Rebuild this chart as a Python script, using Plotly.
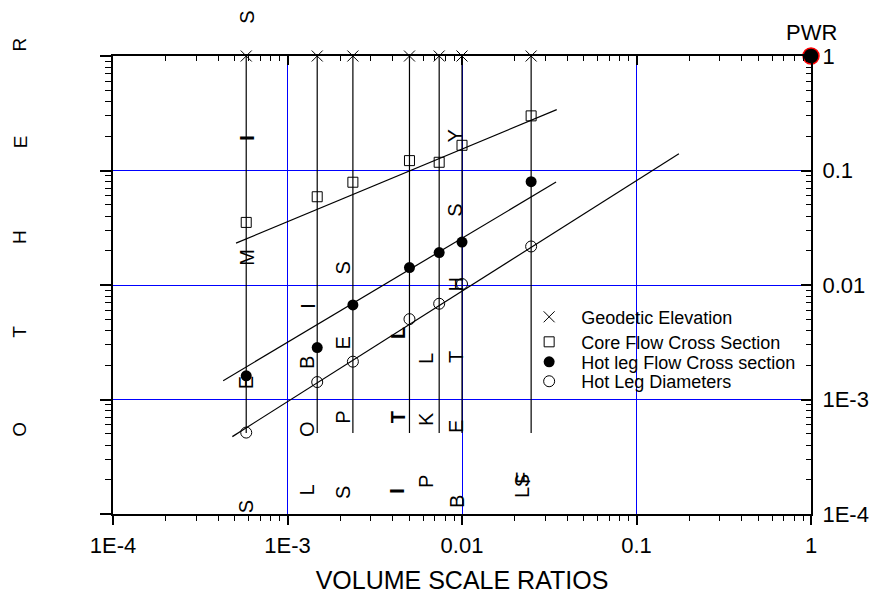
import numpy as np
import plotly.graph_objects as go

# ---------------- data ----------------
facility_x = [5.8e-4, 1.48e-3, 2.37e-3, 5.0e-3, 7.4e-3, 1.0e-2, 2.49e-2]
geodetic_y = [1.0, 1.0, 1.0, 1.0, 1.0, 1.0, 1.0]
core_flow_y = [0.0352, 0.059, 0.079, 0.122, 0.118, 0.166, 0.30]
hotleg_flow_y = [1.61e-3, 2.84e-3, 6.7e-3, 0.0142, 0.0192, 0.0237, 0.0798]
hotleg_diam_y = [5.14e-4, 1.42e-3, 2.14e-3, 5.03e-3, 6.86e-3, 0.0102, 0.0217]
rod_top = 1.0
rod_bottom = 5.1e-4

fit_core_x = [5.07e-4, 0.0349]
fit_core_y = [0.0232, 0.34]
fit_flow_x = [4.28e-4, 0.0346]
fit_flow_y = [1.46e-3, 0.0792]
fit_diam_x = [4.83e-4, 0.175]
fit_diam_y = [4.74e-4, 0.140]

pwr_x = [1.0]
pwr_y = [1.0]

tick_vals = [1e-4, 1e-3, 1e-2, 1e-1, 1.0]
tick_text = ["1E-4", "1E-3", "0.01", "0.1", "1"]
minor_vals = [m * 10.0 ** e for e in range(-4, 0) for m in range(2, 10)]

legend_names = ["Geodetic Elevation", "Core Flow Cross Section",
                "Hot leg Flow Cross section", "Hot Leg Diameters"]

# rotated letters along the facility lines: (facility index, letter, paper y, x shift, bold)
line_letters = [
    (0, "S", 1.084, 0, False), (0, "I", 0.822, 0, True), (0, "M", 0.560, 0, False),
    (0, "E", 0.286, 0, False), (0, "S", 0.015, 0, False),
    (1, "I", 0.455, -10, False), (1, "B", 0.330, -10, False), (1, "O", 0.186, -10, False),
    (1, "L", 0.052, -10, False),
    (2, "S", 0.538, -10, False), (2, "E", 0.374, -10, False), (2, "P", 0.212, -10, False),
    (2, "S", 0.048, -10, False),
    (3, "L", 0.396, -12, True), (3, "T", 0.212, -12, True), (3, "I", 0.052, -12, True),
    (4, "L", 0.339, -13, False), (4, "K", 0.208, -13, False), (4, "P", 0.070, -13, False),
    (5, "Y", 0.824, -7, False), (5, "S", 0.662, -7, False), (5, "H", 0.501, -6, False),
    (5, "T", 0.343, -6, False), (5, "E", 0.190, -6, False), (5, "B", 0.026, -5, False),
    (6, "L", 0.046, -9, False), (6, "S", 0.072, -9, False), (6, "F", 0.079, -8, False),
]
side_letters = ["O", "T", "H", "E", "R"]
side_letter_y = [0.184, 0.398, 0.605, 0.812, 1.025]

FONT = "Arial, Liberation Sans, sans-serif"

fig = go.Figure()

# vertical facility lines
vx, vy = [], []
for x in facility_x:
    vx += [x, x, None]
    vy += [rod_top, rod_bottom, None]
fig.add_trace(go.Scatter(x=vx, y=vy, mode="lines", line=dict(color="black", width=1.2),
                         showlegend=False, hoverinfo="skip"))

for fx, fy in [(fit_core_x, fit_core_y), (fit_flow_x, fit_flow_y), (fit_diam_x, fit_diam_y)]:
    fig.add_trace(go.Scatter(x=fx, y=fy, mode="lines", line=dict(color="black", width=1.2),
                             showlegend=False, hoverinfo="skip"))

fig.add_trace(go.Scatter(x=facility_x, y=geodetic_y, mode="markers", name=legend_names[0],
                         legend="legend",
                         marker=dict(symbol="x-thin", size=11, color="black",
                                     line=dict(color="black", width=1)), cliponaxis=False))
fig.add_trace(go.Scatter(x=facility_x, y=core_flow_y, mode="markers", name=legend_names[1],
                         legend="legend2",
                         marker=dict(symbol="square-open", size=10, color="black",
                                     line=dict(color="black", width=1)), cliponaxis=False))
fig.add_trace(go.Scatter(x=facility_x, y=hotleg_flow_y, mode="markers", name=legend_names[2],
                         legend="legend3",
                         marker=dict(symbol="circle", size=11, color="black"), cliponaxis=False))
fig.add_trace(go.Scatter(x=facility_x, y=hotleg_diam_y, mode="markers", name=legend_names[3],
                         legend="legend4",
                         marker=dict(symbol="circle-open", size=11, color="black",
                                     line=dict(color="black", width=1)), cliponaxis=False))
fig.add_trace(go.Scatter(x=pwr_x, y=pwr_y, mode="markers", showlegend=False,
                         marker=dict(symbol="circle", size=16, color="black",
                                     line=dict(color="red", width=1.5)), cliponaxis=False))

# helper traces so overlay axes are drawn
fig.add_trace(go.Scatter(x=[1e-4], y=[1e-4], xaxis="x2", yaxis="y", mode="markers",
                         marker=dict(opacity=0), showlegend=False, hoverinfo="skip"))
fig.add_trace(go.Scatter(x=[1e-4], y=[1e-4], xaxis="x", yaxis="y2", mode="markers",
                         marker=dict(opacity=0), showlegend=False, hoverinfo="skip"))

annotations = []
for idx, letter, py, xs, bold in line_letters:
    annotations.append(dict(x=np.log10(facility_x[idx]), xref="x", y=py, yref="paper",
                            text=f"<b>{letter}</b>" if bold else letter, textangle=-90,
                            showarrow=False, xshift=xs, xanchor="center", yanchor="middle",
                            font=dict(family=FONT, size=20, color="black")))
for letter, py in zip(side_letters, side_letter_y):
    annotations.append(dict(x=-0.1332, xref="paper", y=py, yref="paper", text=letter,
                            textangle=-90, showarrow=False, xanchor="center", yanchor="middle",
                            font=dict(family=FONT, size=19, color="black")))
annotations.append(dict(x=np.log10(pwr_x[0]), xref="x", y=np.log10(pwr_y[0]), yref="y",
                        text="PWR", showarrow=False, yshift=24, xanchor="center",
                        yanchor="middle", font=dict(family=FONT, size=22, color="black")))

common = dict(type="log", range=[-4, 0], tickmode="array", tickvals=tick_vals,
              zeroline=False, showline=True, linecolor="black", linewidth=2,
              tickcolor="black", tickwidth=1.5, automargin=False)

legend_style = dict(xanchor="left", yanchor="middle", bgcolor="rgba(0,0,0,0)",
                    borderwidth=0, itemwidth=54,
                    font=dict(family=FONT, size=18, color="black"))
legend_x = 0.579
legend_rows_y = [0.4299, 0.3753, 0.3316, 0.2892]

# page body has an 8px default margin: figure placed so the plot sits where the reference does
fig.update_layout(
    width=865, height=587,
    margin=dict(l=105, r=62, t=48, b=81),
    paper_bgcolor="white", plot_bgcolor="white",
    showlegend=True,
    legend=dict(x=legend_x, y=legend_rows_y[0], **legend_style),
    legend2=dict(x=legend_x, y=legend_rows_y[1], **legend_style),
    legend3=dict(x=legend_x, y=legend_rows_y[2], **legend_style),
    legend4=dict(x=legend_x, y=legend_rows_y[3], **legend_style),
    xaxis=dict(**common, side="bottom", ticktext=tick_text, ticks="outside", ticklen=9,
               showgrid=True, gridcolor="#0000ff", gridwidth=1, ticklabelstandoff=2,
               minor=dict(tickmode="array", tickvals=minor_vals, ticks="outside", ticklen=5,
                          tickwidth=1, tickcolor="black", showgrid=False),
               tickfont=dict(family=FONT, size=22, color="black"),
               title=dict(text="VOLUME SCALE RATIOS", standoff=14,
                          font=dict(family=FONT, size=25, color="black"))),
    xaxis2=dict(**common, overlaying="x", side="top", anchor="y", ticks="inside", ticklen=9,
                showticklabels=False, showgrid=False,
                minor=dict(tickmode="array", tickvals=minor_vals, ticks="inside", ticklen=5,
                           tickwidth=1, tickcolor="black", showgrid=False)),
    yaxis=dict(**common, side="left", ticks="outside", ticklen=11, showticklabels=False,
               showgrid=True, gridcolor="#0000ff", gridwidth=1,
               minor=dict(tickmode="array", tickvals=minor_vals, ticks="outside", ticklen=6,
                          tickwidth=1, tickcolor="black", showgrid=False)),
    yaxis2=dict(**common, overlaying="y", side="right", anchor="x", ticks="inside", ticklen=10,
                ticktext=tick_text, showgrid=False, ticklabelstandoff=5,
                tickfont=dict(family=FONT, size=22, color="black"),
                minor=dict(tickmode="array", tickvals=minor_vals, ticks="inside", ticklen=5,
                           tickwidth=1, tickcolor="black", showgrid=False)),
    annotations=annotations,
)

fig.write_html("out.html")
